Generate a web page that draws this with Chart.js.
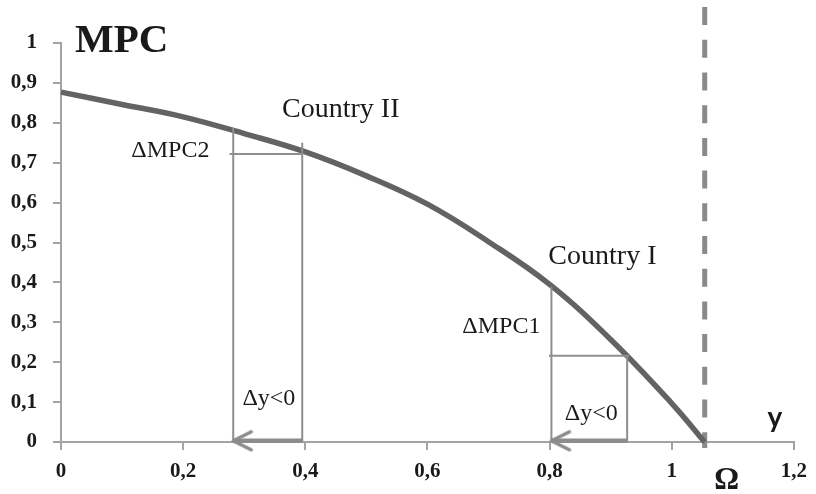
<!DOCTYPE html>
<html>
<head>
<meta charset="utf-8">
<script src="https://cdn.jsdelivr.net/npm/chart.js@4"></script>
<style>
  html, body { margin: 0; padding: 0; background: #fff; }
  #wrap { width: 816px; height: 494px; }
</style>
</head>
<body>
<div id="wrap"><canvas id="mpcChart" width="816" height="494"></canvas></div>
<script>
// Data
const incomeY = [0, 0.1, 0.2, 0.3, 0.4, 0.5, 0.6, 0.7, 0.8, 0.9, 1.0, 1.054];
const mpcValues = [0.877, 0.846, 0.815, 0.773, 0.727, 0.667, 0.596, 0.502, 0.395, 0.257, 0.097, 0];
const omega = 1.054;
const omegaTop = 1.09;

// Country II: dy from 0.395 back to 0.282
const country2X = [0.282, 0.395];
const country2MPC = [0.787, 0.722];
// Country I: dy from 0.927 back to 0.803
const country1X = [0.803, 0.927];
const country1MPC = [0.389, 0.216];

const xTicks = [0, 0.2, 0.4, 0.6, 0.8, 1, 1.2];
const yTicks = [0, 0.1, 0.2, 0.3, 0.4, 0.5, 0.6, 0.7, 0.8, 0.9, 1];

const fmt = v => String(Math.round(v * 10) / 10).replace('.', ',');

document.addEventListener("DOMContentLoaded", () => {
    const rectColor = '#8e8e8e';
    const arrowColor = '#8c8c8c';

    // chevron arrow head, tip at the centre of the image
    const chevron = document.createElement('canvas');
    chevron.width = 44; chevron.height = 26;
    const g = chevron.getContext('2d');
    g.strokeStyle = arrowColor; g.lineWidth = 3.5; g.lineCap = 'round'; g.lineJoin = 'round';
    g.beginPath(); g.moveTo(40, 4); g.lineTo(22, 13); g.lineTo(40, 22); g.stroke();

    const seg = (pts, color, width) => ({
        data: pts, borderColor: color, borderWidth: width, pointRadius: 0,
        fill: false, tension: 0, clip: false
    });

    // box lines for each country
    const c2 = [
        seg([{x: country2X[0], y: 0}, {x: country2X[0], y: country2MPC[0]}], rectColor, 2),
        seg([{x: country2X[1], y: 0}, {x: country2X[1], y: 0.75}], rectColor, 2),
        seg([{x: 0.276, y: country2MPC[1]}, {x: country2X[1], y: country2MPC[1]}], rectColor, 2)
    ];
    const c1 = [
        seg([{x: country1X[0], y: 0}, {x: country1X[0], y: country1MPC[0]}], rectColor, 2),
        seg([{x: country1X[1], y: 0}, {x: country1X[1], y: country1MPC[1]}], rectColor, 2),
        seg([{x: 0.799, y: country1MPC[1]}, {x: 0.93, y: country1MPC[1]}], rectColor, 2)
    ];

    const arrow = (from, to) => ({
        data: [{x: from, y: 0.003}, {x: to, y: 0.003}],
        borderColor: arrowColor, borderWidth: 4.5, fill: false, clip: false,
        pointStyle: [false, chevron], pointRadius: [0, 10], pointHoverRadius: 0
    });

    const curve = {
        data: incomeY.map((x, i) => ({x: x, y: mpcValues[i]})),
        borderColor: '#636363', borderWidth: 5.5, pointRadius: 0,
        tension: 0.4, fill: false, clip: false
    };

    const omegaLine = {
        data: [{x: omega, y: omegaTop}, {x: omega, y: -0.015}],
        borderColor: '#8a8a8a', borderWidth: 5, borderDash: [18, 14.7],
        pointRadius: 0, fill: false, clip: false
    };

    // text labels anchored in data coordinates
    const labels = [
        {text: 'MPC', x: 0.023, y: 0.977, font: 'bold 41px "Liberation Serif"', align: 'left'},
        {text: 'Country II', x: 0.362, y: 0.815, font: '28px "Liberation Serif"', align: 'left'},
        {text: '\u0394MPC2', x: 0.243, y: 0.714, font: '24px "Liberation Serif"', align: 'right'},
        {text: 'Country I', x: 0.798, y: 0.446, font: '28px "Liberation Serif"', align: 'left'},
        {text: '\u0394MPC1', x: 0.785, y: 0.273, font: '24px "Liberation Serif"', align: 'right'},
        {text: '\u0394y<0', x: 0.297, y: 0.093, font: '24px "Liberation Serif"', align: 'left'},
        {text: '\u0394y<0', x: 0.825, y: 0.055, font: '24px "Liberation Serif"', align: 'left'},
        {text: 'y', x: 1.157, y: 0.038, font: 'bold 28px Lato', align: 'left'},
        {text: '\u03A9', x: 1.09, y: -0.118, font: 'bold 31px "Liberation Serif"', align: 'center'}
    ];

    const textPlugin = {
        id: 'texts',
        afterDatasetsDraw(chart) {
            const {ctx, scales} = chart;
            ctx.save();
            ctx.fillStyle = '#1a1a1a';
            ctx.textBaseline = 'alphabetic';
            labels.forEach(l => {
                ctx.font = l.font;
                ctx.textAlign = l.align;
                ctx.fillText(l.text, scales.x.getPixelForValue(l.x), scales.y.getPixelForValue(l.y));
            });
            ctx.restore();
        }
    };

    const axisColor = '#a3a3a3';
    const tickFont = {family: '"Liberation Serif"', size: 21, weight: 'bold'};

    new Chart(document.getElementById('mpcChart').getContext('2d'), {
        type: 'line',
        data: {datasets: [...c2, ...c1, arrow(country2X[1], country2X[0]), arrow(country1X[1], country1X[0]), curve, omegaLine]},
        options: {
            responsive: false,
            animation: false,
            events: [],
            layout: {padding: {top: 43, right: 17, left: 0, bottom: 0}},
            plugins: {legend: {display: false}, tooltip: {enabled: false}},
            scales: {
                x: {
                    type: 'linear', min: 0, max: 1.2,
                    afterFit: s => { s.height = 52; },
                    afterBuildTicks: s => { s.ticks = xTicks.map(v => ({value: v})); },
                    border: {color: axisColor, width: 2},
                    grid: {drawOnChartArea: false, color: axisColor, lineWidth: 2, tickLength: 8},
                    ticks: {color: '#1a1a1a', font: tickFont, padding: 9, maxRotation: 0, callback: fmt}
                },
                y: {
                    type: 'linear', min: 0, max: 1,
                    afterFit: s => { s.width = 61; },
                    afterBuildTicks: s => { s.ticks = yTicks.map(v => ({value: v})); },
                    border: {color: axisColor, width: 2},
                    grid: {drawOnChartArea: false, color: axisColor, lineWidth: 2, tickLength: 8},
                    ticks: {color: '#1a1a1a', font: tickFont, padding: 16, callback: fmt}
                }
            }
        },
        plugins: [textPlugin]
    });
});
</script>
</body>
</html>
